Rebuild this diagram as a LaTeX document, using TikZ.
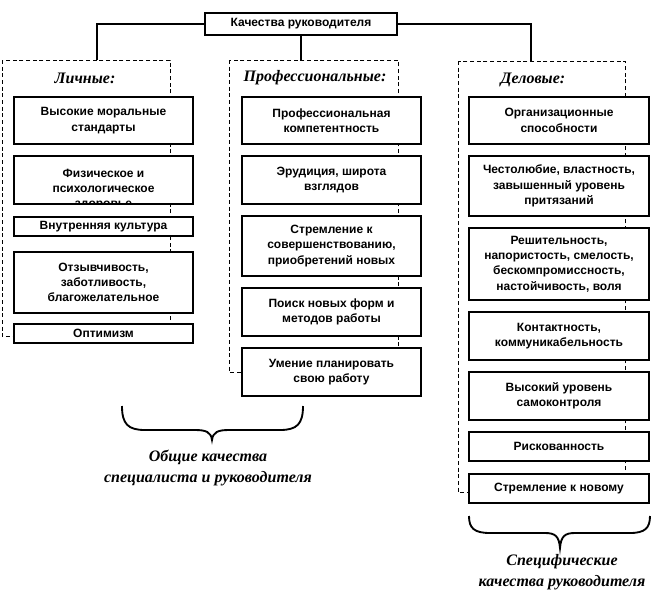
\documentclass[tikz,border=0pt]{standalone}
\usepackage{fontspec}
\setmainfont{Liberation Sans}
\newfontfamily\titlefont{Liberation Serif}
\newcommand\qb[6]{\node[qbox, minimum width={(#4-#2)*0.75pt}, minimum height={(#5-#3)*0.75pt}] (#1) at ({(#2+#4)/2},{(#3+#5)/2}) {#6};}
\begin{document}
\begin{tikzpicture}[x=0.75pt,y=-0.75pt,
  qbox/.style={draw, fill=white, line width=0.8pt, align=center, inner sep=0pt,
    font=\bfseries\fontsize{9}{11.5}\selectfont},
  qtext/.style={align=center, inner sep=0pt, font=\bfseries\fontsize{9}{11.5}\selectfont},
  frame/.style={draw, dash pattern=on 3pt off 2pt, line width=0.6pt},
  ttl/.style={font=\titlefont\bfseries\itshape\fontsize{12}{16}\selectfont, align=center, inner sep=0pt},
  link/.style={draw, line width=0.8pt},
  brace/.style={draw, line width=1.4pt}]
\useasboundingbox (0,0) rectangle (665,612);

% frames
\draw[frame] (2,60) rectangle (170,336);
\draw[frame] (229,60) rectangle (398,372);
\draw[frame] (458,61) rectangle (625,492);

% top box and links
\qb{top}{205}{13}{397}{35}{Качества руководителя}
\coordinate (lTop) at (97,60);
\coordinate (mTop) at (301,60);
\coordinate (rTop) at (531,61);
\draw[link] (top.west) -| (lTop);
\draw[link] (top.east) -| (rTop);
\draw[link] (top.south) -- (mTop);

% titles
\node[ttl] (tl) at (85,78) {Личные:};
\node[ttl] (tm) at (315,78) {Профессиональные:};
\node[ttl] (tr) at (533,80) {Деловые:};

% left column
\qb{L1}{14}{97}{193}{144}{Высокие моральные\\стандарты}
\qb{L2}{14}{156}{193}{204}{}
\begin{scope}
\clip (L2.south west) rectangle (L2.north east);
\node[qtext, anchor=north] (L2t) at (103.5,168.5) {Физическое и\\психологическое\\здоровье};
\end{scope}
\draw[line width=0.8pt] (L2.south west) rectangle (L2.north east);
\qb{L3}{14}{217}{193}{236}{Внутренняя культура}
\qb{L4}{14}{252}{193}{313}{Отзывчивость,\\заботливость,\\благожелательное}
\qb{L5}{14}{324}{193}{343}{Оптимизм}

% middle column
\qb{M1}{242}{97}{421}{144}{Профессиональная\\компетентность}
\qb{M2}{242}{156}{421}{204}{Эрудиция, широта\\взглядов}
\qb{M3}{242}{216}{421}{276}{Стремление к\\совершенствованию,\\приобретений новых}
\qb{M4}{242}{288}{421}{336}{Поиск новых форм и\\методов работы}
\qb{M5}{242}{348}{421}{396}{Умение планировать\\свою работу}

% right column
\qb{R1}{469}{97}{649}{144}{Организационные\\способности}
\qb{R2}{469}{156}{649}{216}{Честолюбие, властность,\\завышенный уровень\\притязаний}
\qb{R3}{469}{228}{649}{300}{Решительность,\\напористость, смелость,\\бескомпромиссность,\\настойчивость, воля}
\qb{R4}{469}{312}{649}{360}{Контактность,\\коммуникабельность}
\qb{R5}{469}{372}{649}{420}{Высокий уровень\\самоконтроля}
\qb{R6}{469}{432}{649}{461}{Рискованность}
\qb{R7}{469}{474}{649}{503}{Стремление к новому}

% braces
\draw[brace] (122,406) .. controls (122,424) and (128,430) .. (145,430) -- (195,430)
  .. controls (206,430) and (211,432) .. (212,440)
  .. controls (213,432) and (218,430) .. (229,430) -- (280,430)
  .. controls (297,430) and (303,424) .. (303,406);
\draw[brace] (469,516) .. controls (469,528) and (474,533) .. (490,533) -- (545,533)
  .. controls (555,533) and (559,536) .. (560,548)
  .. controls (561,536) and (565,533) .. (575,533) -- (630,533)
  .. controls (645,533) and (650,528) .. (650,516);

\node[ttl] (bl) at (208,468) {Общие качества\\специалиста и руководителя};
\node[ttl] (br) at (562,572) {Специфические\\качества руководителя};
\end{tikzpicture}
\end{document}
